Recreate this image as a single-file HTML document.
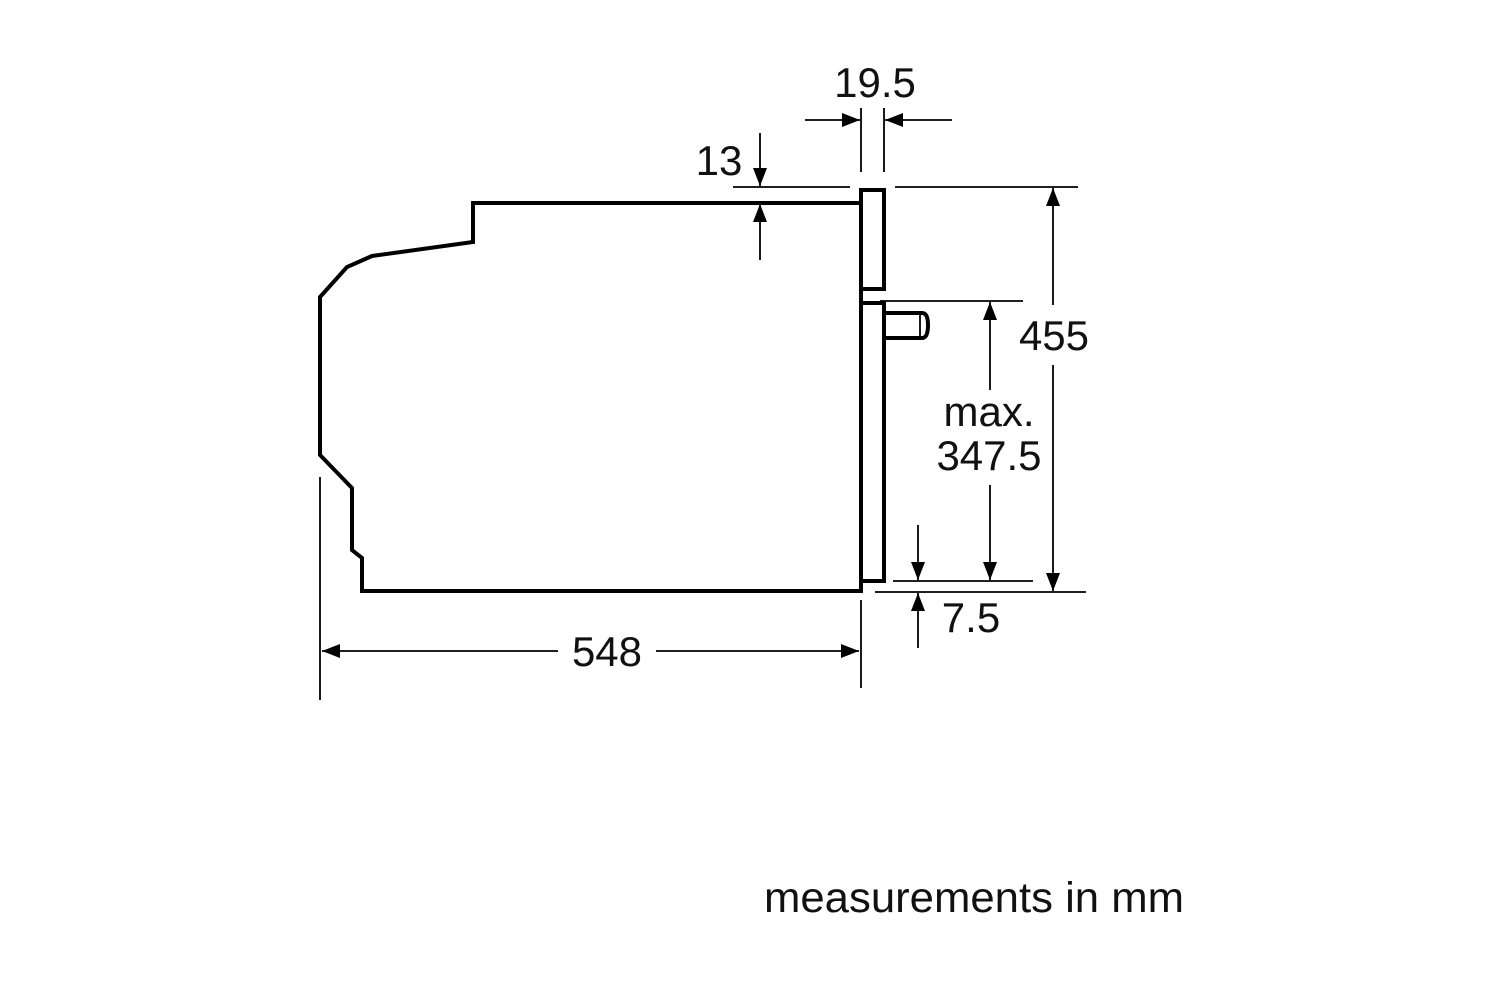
<!DOCTYPE html>
<html><head><meta charset="utf-8"><style>
html,body{margin:0;padding:0;background:#fff;}
svg{display:block}
text{font-family:"Liberation Sans",sans-serif;fill:#111;}
</style></head><body>
<svg width="1500" height="1000" viewBox="0 0 1500 1000">
<defs>
<marker id="a" viewBox="0 0 18 14" refX="18" refY="7" markerWidth="18" markerHeight="14" markerUnits="userSpaceOnUse" orient="auto">
<path d="M0,0 L18,7 L0,14 Z" fill="#000"/></marker>
</defs>
<g fill="none" stroke="#000" stroke-width="4" stroke-linejoin="miter">
<path d="M861,203 L473,203 L473,242 L372,256 L347,267 L320,297 L320,455 L352,488 L352,550 L362,558 L362,591 L861,591 L861,581"/>
<rect x="861" y="190" width="23" height="99"/>
<rect x="861" y="303" width="23" height="278"/>
<line x1="861" y1="289" x2="861" y2="303"/>
<path d="M884,313 L922,313 Q928,313 928,325 Q928,338 922,338 L884,338"/>
</g>
<g stroke="#000" stroke-width="1.8" fill="none">
<line x1="920" y1="314" x2="920" y2="337"/>
<line x1="320" y1="477" x2="320" y2="700"/>
<line x1="861" y1="600" x2="861" y2="688"/>
<line x1="861" y1="108" x2="861" y2="172"/>
<line x1="884" y1="108" x2="884" y2="172"/>
<line x1="733" y1="187" x2="850" y2="187"/>
<line x1="895" y1="187" x2="1078" y2="187"/>
<line x1="893" y1="581" x2="1033" y2="581"/>
<line x1="875" y1="592" x2="1086" y2="592"/>
<line x1="880" y1="301" x2="1023" y2="301"/>
<line x1="805" y1="120" x2="860" y2="120" marker-end="url(#a)"/>
<line x1="952" y1="120" x2="885" y2="120" marker-end="url(#a)"/>
<line x1="760" y1="133" x2="760" y2="186" marker-end="url(#a)"/>
<line x1="760" y1="260" x2="760" y2="204" marker-end="url(#a)"/>
<line x1="1053" y1="305" x2="1053" y2="188" marker-end="url(#a)"/>
<line x1="1053" y1="365" x2="1053" y2="591" marker-end="url(#a)"/>
<line x1="990" y1="390" x2="990" y2="302" marker-end="url(#a)"/>
<line x1="990" y1="485" x2="990" y2="580" marker-end="url(#a)"/>
<line x1="918" y1="525" x2="918" y2="580" marker-end="url(#a)"/>
<line x1="918" y1="648" x2="918" y2="593" marker-end="url(#a)"/>
<line x1="558" y1="651" x2="322" y2="651" marker-end="url(#a)"/>
<line x1="656" y1="651" x2="859" y2="651" marker-end="url(#a)"/>
</g>
<g font-size="42">
<text x="875" y="97" text-anchor="middle">19.5</text>
<text x="719" y="175" text-anchor="middle">13</text>
<text x="1054" y="350" text-anchor="middle">455</text>
<text x="989" y="426" text-anchor="middle">max.</text>
<text x="989" y="470" text-anchor="middle">347.5</text>
<text x="971" y="632" text-anchor="middle">7.5</text>
<text x="607" y="666" text-anchor="middle">548</text>
<text x="764" y="912" font-size="43" textLength="420" lengthAdjust="spacingAndGlyphs">measurements in mm</text>
</g>
</svg>
</body></html>
